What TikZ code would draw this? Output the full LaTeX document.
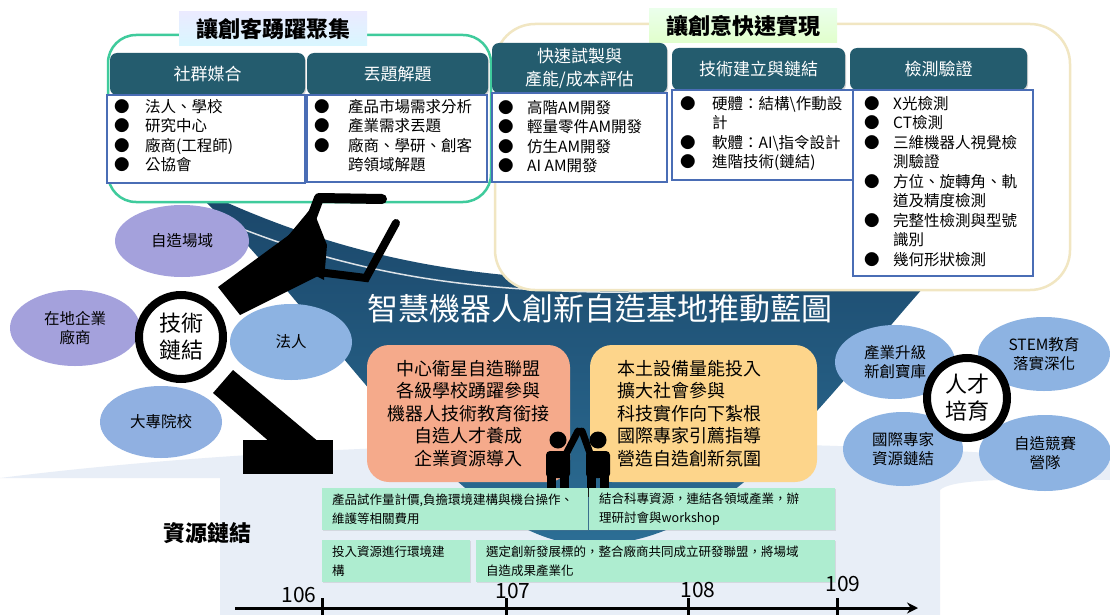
\documentclass[tikz,border=0pt]{standalone}
\usepackage{fontspec}
\setmainfont{Noto Sans CJK TC}
\usetikzlibrary{shapes.geometric,arrows.meta,shadows}

\definecolor{headteal}{HTML}{245C6E}
\definecolor{listblue}{HTML}{4A6DB5}
\definecolor{mintline}{HTML}{3FCB9C}
\definecolor{creamline}{HTML}{F1E6C2}
\definecolor{deepblue}{HTML}{1A4568}
\definecolor{bowlblue}{HTML}{2C6E95}
\definecolor{paleblue}{HTML}{E8EEF7}
\definecolor{lavender}{HTML}{A4A1DC}
\definecolor{skyblob}{HTML}{8DB3E2}
\definecolor{salmon}{HTML}{F5AA8B}
\definecolor{butter}{HTML}{FDD58B}
\definecolor{mint}{HTML}{AEEDD0}

\newcommand{\sz}[2]{\fontsize{#1}{#2}\selectfont}
\newcommand{\bul}[1]{\makebox[#1][l]{●}}

\tikzset{
  grouprim/.style={rounded corners=28pt, line width=2.5pt, fill=white},
  tabbar/.style={font=\sz{22}{24}\bfseries, inner sep=0pt, minimum height=34pt},
  headbox/.style={fill=headteal, rounded corners=7pt, text=white, font=\sz{17}{23},
    align=center, inner sep=0pt,
    drop shadow={opacity=.35, shadow xshift=1pt, shadow yshift=-1.5pt}},
  listframe/.style={draw=listblue, line width=1.1pt, fill=white},
  listtext/.style={anchor=north west, inner sep=0pt, align=left, font=\sz{15.5}{19.5}},
  blob/.style={ellipse, inner sep=0pt, font=\sz{15.5}{19}, align=center},
  hubring/.style={circle, draw=black, line width=8pt, fill=white, inner sep=0pt,
    font=\sz{22}{27}, align=center},
  plate/.style={rounded corners=22pt, font=\sz{18}{22.5}, inner ysep=0pt},
  notebox/.style={fill=mint, anchor=north west, font=\sz{12.5}{19.5}, align=left,
    inner xsep=10pt, inner ysep=0pt, minimum height=42pt,
    drop shadow={opacity=.2, shadow xshift=1pt, shadow yshift=-1pt}},
}

\begin{document}
\begin{tikzpicture}[x=1pt,y=-1pt]
  \useasboundingbox (0,0) rectangle (1110,615);
  \fill[white] (0,0) rectangle (1110,615);

  % pale floor behind the road map
  \fill[paleblue] (220,615) -- (220,478) -- (0,478) .. controls (300,440) and (750,430) .. (1110,462)
    -- (1110,480) .. controls (1000,478) and (950,480) .. (940,490) -- (940,615) -- cycle;

  % dark bowl
  \shade[top color=deepblue, bottom color=bowlblue]
    (185,183) .. controls (330,255) and (460,278) .. (600,280)
    .. controls (760,282) and (900,250) .. (1010,200)
    .. controls (860,330) and (760,545) .. (590,545)
    .. controls (450,545) and (320,300) .. (185,183) -- cycle;
  \draw[white!85!deepblue, line width=1.5pt]
    (240,228) .. controls (360,275) and (470,290) .. (600,292)
    .. controls (760,294) and (900,262) .. (990,222);

  % maker group
  \draw[grouprim, draw=mintline] (108,35) rectangle (491,202);
  \node[tabbar, minimum width=188pt, top color=blue!8, bottom color=blue!22!cyan!15] (tabMaker) at (273,29) {讓創客踴躍聚集};
  \node[headbox, minimum width=195pt, minimum height=42pt] (hSocial) at (207.5,74) {社群媒合};
  \node[headbox, minimum width=181pt, minimum height=42pt] (hTopic) at (397.5,74) {丟題解題};
  \draw[listframe] (107,95) rectangle (305,183);
  \draw[listframe] (307,95) rectangle (487,182);
  \node[listtext] (lSocial) at (114,99) {\bul{31pt}法人、學校\\ \bul{31pt}研究中心\\ \bul{31pt}廠商(工程師)\\ \bul{31pt}公協會};
  \node[listtext] (lTopic) at (314,99) {\bul{34pt}產品市場需求分析\\ \bul{34pt}產業需求丟題\\ \bul{34pt}廠商、學研、創客\\ \hspace*{34pt}跨領域解題};

  % fast realisation group
  \draw[grouprim, draw=creamline, rounded corners=40pt] (495,24) rectangle (1070,290);
  \node[tabbar, minimum width=188pt, top color=green!8!white, bottom color=green!45!lime!20] (tabFast) at (743,26) {讓創意快速實現};
  \node[headbox, minimum width=175pt, minimum height=50pt] (hProto) at (579.5,68) {快速試製與\\產能/成本評估};
  \node[headbox, minimum width=173pt, minimum height=42pt] (hTech) at (758.5,69) {技術建立與鏈結};
  \node[headbox, minimum width=177pt, minimum height=42pt] (hTest) at (938.5,69) {檢測驗證};
  \draw[listframe] (492,93) rectangle (667,182);
  \draw[listframe] (672,90) rectangle (853,180);
  \draw[listframe] (853,90) rectangle (1033,276);
  \node[listtext] (lProto) at (498,100) {\bul{29pt}高階AM開發\\ \bul{29pt}輕量零件AM開發\\ \bul{29pt}仿生AM開發\\ \bul{29pt}AI AM開發};
  \node[listtext] (lTech) at (680,96) {\bul{32pt}硬體：結構\textbackslash 作動設\\ \hspace*{32pt}計\\ \bul{32pt}軟體：AI\textbackslash 指令設計\\ \bul{32pt}進階技術(鏈結)};
  \node[listtext] (lTest) at (864,96) {\bul{29pt}X光檢測\\ \bul{29pt}CT檢測\\ \bul{29pt}三維機器人視覺檢\\ \hspace*{29pt}測驗證\\
    \bul{29pt}方位、旋轉角、軌\\ \hspace*{29pt}道及精度檢測\\ \bul{29pt}完整性檢測與型號\\ \hspace*{29pt}識別\\ \bul{29pt}幾何形狀檢測};

  % tech link cluster
  \node[blob, fill=lavender, minimum width=134pt, minimum height=72pt] (eSpace) at (182,241) {自造場域};
  \node[blob, fill=lavender, minimum width=130pt, minimum height=76pt] (eFirm) at (75,328) {在地企業\\廠商};
  \node[blob, fill=skyblob, minimum width=122pt, minimum height=76pt] (eLegal) at (291,342) {法人};
  \node[blob, fill=skyblob!85!lavender, minimum width=122pt, minimum height=72pt] (eCollege) at (161,422) {大專院校};

  % robot arm
  \fill (213,393) -- (233,370) -- (320,443) -- (271,443) -- cycle;
  \fill (243,440) rectangle (333,474);
  \fill (218,287) -- (293,232) -- (320,275) -- (240,315) -- cycle;
  \fill (288,236) -- (312,207) -- (327,245) -- (324,280) -- (300,268) -- cycle;
  \draw[line width=10pt, line join=round, line cap=round] (310,222) -- (319,198) -- (382,199);
  \draw[line width=8pt, line cap=round] (318,272) -- (366,278) -- (396,223);

  \node[hubring, minimum size=84pt] (hubTech) at (181,337) {技術\\鏈結};

  % talent cluster
  \node[blob, fill=skyblob, minimum width=120pt, minimum height=74pt] (eUpgrade) at (895,362) {產業升級\\新創寶庫};
  \node[blob, fill=skyblob, minimum width=132pt, minimum height=74pt] (eStem) at (1044,354) {STEM教育\\落實深化};
  \node[blob, fill=skyblob, minimum width=120pt, minimum height=74pt] (eExpert) at (903,449) {國際專家\\資源鏈結};
  \node[blob, fill=skyblob, minimum width=132pt, minimum height=76pt] (eContest) at (1045,453) {自造競賽\\營隊};
  \node[hubring, minimum size=80pt] (hubTalent) at (967,398) {人才\\培育};

  \node[font=\sz{31}{34}, text=white, inner sep=0pt] (mainTitle) at (600,309) {智慧機器人創新自造基地推動藍圖};

  % two strategy plates
  \node[plate, fill=salmon, minimum width=203pt, minimum height=137pt, align=center] (pAlliance) at (468.5,413.5)
    {中心衛星自造聯盟\\各級學校踴躍參與\\機器人技術教育銜接\\自造人才養成\\企業資源導入};
  \node[plate, fill=butter, minimum width=227pt, minimum height=137pt, align=left, inner xsep=27pt, text width=173pt] (pLocal) at (703.5,413.5)
    {本土設備量能投入\\擴大社會參與\\科技實作向下紮根\\國際專家引薦指導\\營造自造創新氛圍};

  % high five
  \foreach \px/\hx in {558/578, 598/582} {
    \fill (\px,440) circle (8.5);
    \fill[rounded corners=4pt] (\px-12,451) rectangle (\px+12,478);
    \fill (\px-11,474) rectangle (\px-2,497);
    \fill (\px+2,474) rectangle (\px+11,497);
  }
  \draw[line width=7pt, line cap=round] (565,456) -- (578,431);
  \draw[line width=7pt, line cap=round] (591,456) -- (582,431);

  % resource notes
  \node[font=\sz{22}{24}\bfseries] (resTag) at (207,533) {資源鏈結};
  \node[notebox, minimum width=266pt, text width=246pt] (nCost) at (322,488) {產品試作量計價,負擔環境建構與機台操作、\\維護等相關費用};
  \node[notebox, minimum width=246pt, text width=226pt] (nFund) at (589,488) {結合科專資源，連結各領域產業，辦\\理研討會與workshop};
  \node[notebox, minimum width=148pt, text width=128pt] (nBuild) at (322,540) {投入資源進行環境建\\構};
  \node[notebox, minimum width=359pt, text width=339pt] (nUnion) at (476,540) {選定創新發展標的，整合廠商共同成立研發聯盟，將場域\\自造成果產業化};

  % time axis
  \draw[line width=3pt, -{Stealth[length=11pt,width=11pt]}] (235,608) -- (918,608);
  \foreach \tx/\lx/\ly/\yr in {322/299/595/106, 506/513/591/107, 688/698/590/108, 837/843/584/109} {
    \draw[line width=3pt] (\tx,598) -- (\tx,615);
    \node[font=\sz{21}{24}, inner sep=0pt] (yr\yr) at (\lx,\ly) {\yr};
  }
\end{tikzpicture}
\end{document}
